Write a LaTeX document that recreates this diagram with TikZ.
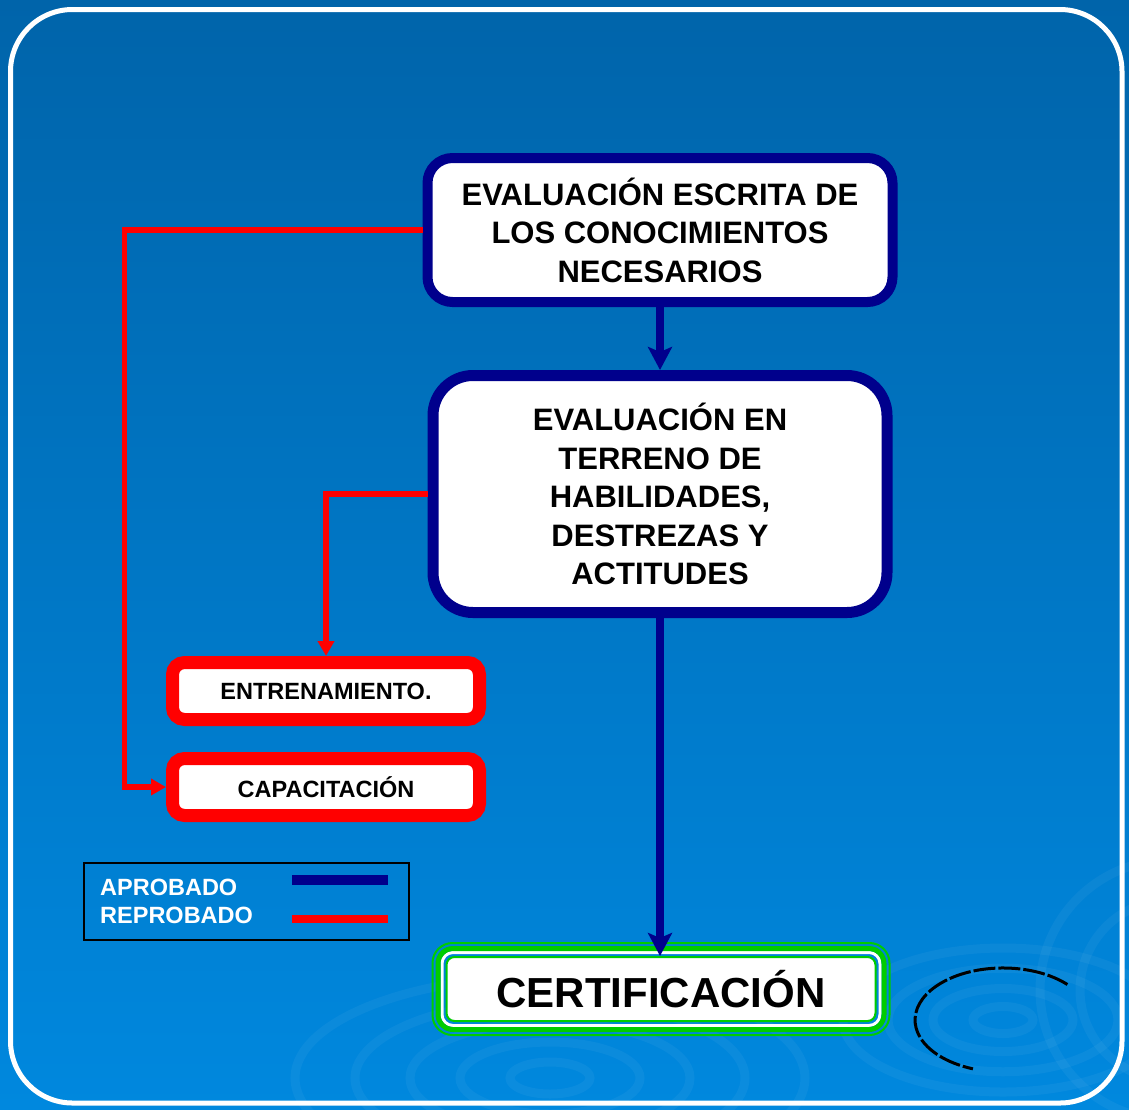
\documentclass[tikz,border=0pt]{standalone}
\usepackage{fontspec}
\setmainfont{Liberation Sans}
\usepackage{tikz}
\usetikzlibrary{arrows.meta,shapes}

\definecolor{azul}{RGB}{0,0,140}
\definecolor{rojo}{RGB}{255,0,0}
\definecolor{verde}{RGB}{0,204,0}
\definecolor{fondoarriba}{RGB}{0,100,170}
\definecolor{fondomedio}{RGB}{0,112,188}
\definecolor{fondoabajo}{RGB}{0,136,222}

\begin{document}
\begin{tikzpicture}[x=1pt,y=-1pt,font=\bfseries,
    etapa/.style={draw=azul,fill=white,rounded corners=#1,align=center,
                  inner sep=0pt},
    remedio/.style={draw=rojo,fill=white,line width=13pt,rounded corners=12pt,
                    minimum width=307pt,minimum height=57pt,inner sep=0pt,
                    font=\fontsize{23.5}{28}\selectfont\bfseries},
    aprueba/.style={azul,line width=8pt,-{Stealth[length=23pt,width=24pt,inset=5pt]}},
    reprueba/.style={rojo,line width=5.5pt,-{Triangle[length=15pt,width=16pt]}},
    leyenda/.style={white,anchor=base west,inner sep=0pt,
                    font=\fontsize{23.5}{28}\selectfont\bfseries}]

  % fondo
  \shade[top color=fondoarriba,middle color=fondomedio,bottom color=fondoabajo]
    (0,0) rectangle (1129,1109);
  \begin{scope}[white,opacity=0.045,line width=9pt]
    \clip (0,0) rectangle (1129,1109);
    \foreach \r in {40,90,140,195,255}
      \draw (550,1078) ellipse [x radius=\r pt,y radius=0.4*\r pt];
    \foreach \r in {30,70,115,160}
      \draw (1003,1020) ellipse [x radius=\r pt,y radius=0.45*\r pt];
    \foreach \r in {90,130}
      \draw (1170,990) circle [radius=\r pt];
  \end{scope}
  \draw[white,line width=5pt,rounded corners=62pt] (10.5,9.5) rectangle (1122,1103);

  % etapas
  \node[etapa=25pt,line width=10pt,minimum width=465pt,minimum height=144pt,
        font=\fontsize{31}{38.5}\selectfont\bfseries]
    (escrita) at (660,230) {EVALUACIÓN ESCRITA DE\\LOS CONOCIMIENTOS\\NECESARIOS};
  \node[etapa=40pt,line width=11pt,minimum width=454pt,minimum height=237pt,
        font=\fontsize{31}{38.5}\selectfont\bfseries]
    (terreno) at (660,494) {EVALUACIÓN EN\\TERRENO DE\\HABILIDADES,\\DESTREZAS Y\\ACTITUDES};
  \node[remedio] (entrenamiento) at (326,691) {ENTRENAMIENTO.};
  \node[remedio] (capacitacion)  at (326,787) {CAPACITACIÓN};
  \node[etapa=8pt,draw=verde,line width=2pt,minimum width=429pt,minimum height=64pt,
        font=\fontsize{42}{50}\selectfont\bfseries]
    (certificacion) at (661,989) {CERTIFICACIÓN};
  \draw[white,line width=3pt,rounded corners=11pt]
    ([shift={(-3.5,3.5)}]certificacion.south west) rectangle ([shift={(3.5,-3.5)}]certificacion.north east);
  \draw[verde,line width=5pt,rounded corners=15pt]
    ([shift={(-7.5,7.5)}]certificacion.south west) rectangle ([shift={(7.5,-7.5)}]certificacion.north east);
  \draw[verde,line width=2pt,rounded corners=20pt]
    ([shift={(-13,13)}]certificacion.south west) rectangle ([shift={(13,-13)}]certificacion.north east);

  % conectores
  \coordinate (rieliz) at (124.5,787);
  \draw[aprueba] (escrita.south) -- (terreno.north);
  \draw[aprueba] (terreno.south) -- (terreno.south |- certificacion.north);
  \draw[reprueba] (escrita.west) -| (rieliz) -- (capacitacion.west);
  \draw[reprueba] (terreno.west) -| (entrenamiento.north);

  % leyenda
  \draw[black,line width=2.5pt] (84,863) rectangle (409,940);
  \node[leyenda] (aprobado)  at (100,895) {APROBADO};
  \node[leyenda] (reprobado) at (100,923) {REPROBADO};
  \draw[azul,line width=10pt] (292,880) -- (388,880);
  \draw[rojo,line width=8pt]  (292,919) -- (388,919);

  % elipse punteada
  \draw[black,line width=3pt,dash pattern=on 22pt off 3pt]
    (1067.4,984.5) arc[start angle=43,end angle=250,x radius=88pt,y radius=52pt];
\end{tikzpicture}
\end{document}
